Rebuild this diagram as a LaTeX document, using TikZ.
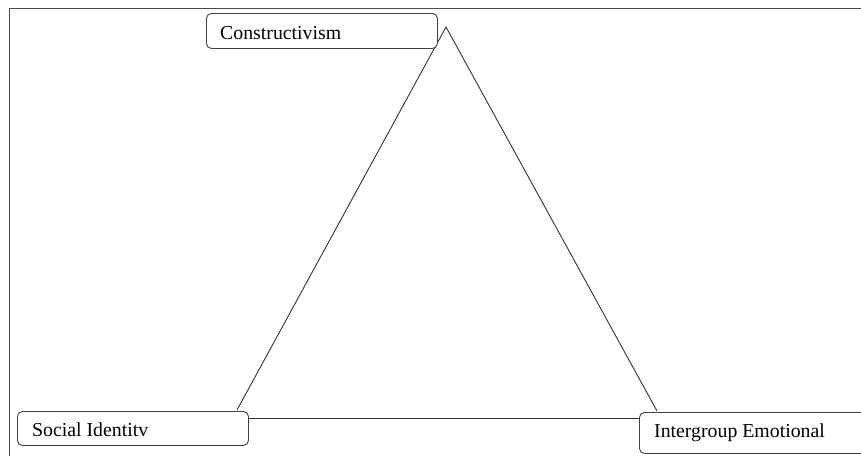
\documentclass[tikz,border=0pt]{standalone}
\usepackage{fontspec}
\setmainfont{Liberation Serif}
\begin{document}
\begin{tikzpicture}[x=1pt,y=-1pt,
  box/.style={draw=black!75, line width=0.9pt, rounded corners=5pt, fill=white, inner sep=0pt, anchor=north west},
  lbl/.style={anchor=base west, inner sep=0pt, font=\fontsize{19.8}{23}\selectfont},
  edge/.style={draw=black!80, line width=0.9pt}]
\useasboundingbox (0,0) rectangle (861,455);
\begin{scope}
\clip (0,0) rectangle (861,455);
\draw[black!70, line width=1pt] (9,8) rectangle (900,500);
% triangle
\coordinate (apex) at (446,27);
\coordinate (bl) at (237,410);
\coordinate (br) at (657,411);
\coordinate (sl) at (248,418);
\coordinate (sr) at (640,418);
\draw[edge] (bl) -- (apex) -- (br);
\draw[edge] (sl) -- (sr);
% boxes
\node[box, minimum width=231pt, minimum height=35pt] (c) at (206,13) {};
\node[lbl] (ct) at (220,39) {Constructivism};
\node[box, minimum width=231pt, minimum height=34pt] (si) at (17,411) {};
\node[lbl] (st) at (32,436) {Social Identitv};
\node[box, minimum width=240pt, minimum height=41pt] (ie) at (639,412) {};
\node[lbl] (it) at (654,437) {Intergroup Emotional};
\end{scope}
\end{tikzpicture}
\end{document}
